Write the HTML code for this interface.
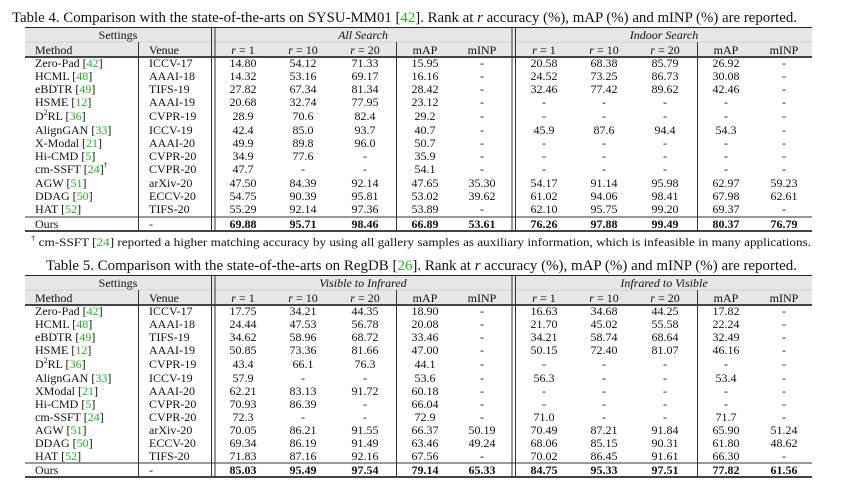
<!DOCTYPE html>
<html><head><meta charset="utf-8"><style>
html,body{margin:0;padding:0;background:#fff;}
svg{display:block;}
text{font-family:"Liberation Serif",serif;font-size:12px;fill:#111;}
.c{text-anchor:middle;}
.g{fill:#22b422;}
.b{font-weight:bold;}
.i{font-style:italic;}
.t{font-size:14.5px;}
</style></head><body>
<svg width="841" height="487" viewBox="0 0 841 487" xmlns="http://www.w3.org/2000/svg">
<!-- TABLE 4 -->
<text x="12" y="22" class="t" textLength="785" lengthAdjust="spacingAndGlyphs">Table 4. Comparison with the state-of-the-arts on SYSU-MM01 [<tspan class="g">42</tspan>]. Rank at <tspan class="i">r</tspan> accuracy (%), mAP (%) and mINP (%) are reported.</text>
<rect x="25" y="27" width="787" height="30" fill="#e6e6e6"/>
<line x1="25" y1="27.5" x2="812" y2="27.5" stroke="#222" stroke-width="1"/>
<line x1="25" y1="42" x2="812" y2="42" stroke="#bbb" stroke-width="0.6"/>
<line x1="25" y1="57" x2="812" y2="57" stroke="#444" stroke-width="2"/>
<line x1="25" y1="217" x2="812" y2="217" stroke="#333" stroke-width="1"/>
<line x1="25" y1="231" x2="812" y2="231" stroke="#444" stroke-width="2"/>
<line x1="138.5" y1="42" x2="138.5" y2="231" stroke="#333"/>
<line x1="211.5" y1="27" x2="211.5" y2="231" stroke="#333"/>
<line x1="215" y1="27" x2="215" y2="231" stroke="#333"/>
<line x1="396.5" y1="42" x2="396.5" y2="231" stroke="#333"/>
<line x1="512" y1="27" x2="512" y2="231" stroke="#333"/>
<line x1="515.5" y1="27" x2="515.5" y2="231" stroke="#333"/>
<line x1="697.5" y1="42" x2="697.5" y2="231" stroke="#333"/>
<text x="118" y="39" class="c">Settings</text>
<text x="363" y="39" class="c i">All Search</text>
<text x="664" y="39" class="c i">Indoor Search</text>
<g transform="translate(0,54)">
<text x="35">Method</text><text x="149">Venue</text>
<text x="243" class="c i">r<tspan font-style="normal"> = 1</tspan></text>
<text x="303" class="c i">r<tspan font-style="normal"> = 10</tspan></text>
<text x="365" class="c i">r<tspan font-style="normal"> = 20</tspan></text>
<text x="425" class="c">mAP</text><text x="482" class="c">mINP</text>
<text x="544" class="c i">r<tspan font-style="normal"> = 1</tspan></text>
<text x="604" class="c i">r<tspan font-style="normal"> = 10</tspan></text>
<text x="665" class="c i">r<tspan font-style="normal"> = 20</tspan></text>
<text x="726" class="c">mAP</text><text x="784" class="c">mINP</text>
</g>
<g transform="translate(0,67)"><text x="35">Zero-Pad [<tspan class="g">42</tspan>]</text><text x="149">ICCV-17</text><text x="243" class="c">14.80</text><text x="303" class="c">54.12</text><text x="365" class="c">71.33</text><text x="425" class="c">15.95</text><text x="482" class="c">-</text><text x="544" class="c">20.58</text><text x="604" class="c">68.38</text><text x="665" class="c">85.79</text><text x="726" class="c">26.92</text><text x="784" class="c">-</text></g>
<g transform="translate(0,80)"><text x="35">HCML [<tspan class="g">48</tspan>]</text><text x="149">AAAI-18</text><text x="243" class="c">14.32</text><text x="303" class="c">53.16</text><text x="365" class="c">69.17</text><text x="425" class="c">16.16</text><text x="482" class="c">-</text><text x="544" class="c">24.52</text><text x="604" class="c">73.25</text><text x="665" class="c">86.73</text><text x="726" class="c">30.08</text><text x="784" class="c">-</text></g>
<g transform="translate(0,93)"><text x="35">eBDTR [<tspan class="g">49</tspan>]</text><text x="149">TIFS-19</text><text x="243" class="c">27.82</text><text x="303" class="c">67.34</text><text x="365" class="c">81.34</text><text x="425" class="c">28.42</text><text x="482" class="c">-</text><text x="544" class="c">32.46</text><text x="604" class="c">77.42</text><text x="665" class="c">89.62</text><text x="726" class="c">42.46</text><text x="784" class="c">-</text></g>
<g transform="translate(0,106)"><text x="35">HSME [<tspan class="g">12</tspan>]</text><text x="149">AAAI-19</text><text x="243" class="c">20.68</text><text x="303" class="c">32.74</text><text x="365" class="c">77.95</text><text x="425" class="c">23.12</text><text x="482" class="c">-</text><text x="544" class="c">-</text><text x="604" class="c">-</text><text x="665" class="c">-</text><text x="726" class="c">-</text><text x="784" class="c">-</text></g>
<g transform="translate(0,120)"><text x="35">D<tspan dy="-5" font-size="8">2</tspan><tspan dy="5">RL [</tspan><tspan class="g">36</tspan>]</text><text x="149">CVPR-19</text><text x="243" class="c">28.9</text><text x="303" class="c">70.6</text><text x="365" class="c">82.4</text><text x="425" class="c">29.2</text><text x="482" class="c">-</text><text x="544" class="c">-</text><text x="604" class="c">-</text><text x="665" class="c">-</text><text x="726" class="c">-</text><text x="784" class="c">-</text></g>
<g transform="translate(0,134)"><text x="35">AlignGAN [<tspan class="g">33</tspan>]</text><text x="149">ICCV-19</text><text x="243" class="c">42.4</text><text x="303" class="c">85.0</text><text x="365" class="c">93.7</text><text x="425" class="c">40.7</text><text x="482" class="c">-</text><text x="544" class="c">45.9</text><text x="604" class="c">87.6</text><text x="665" class="c">94.4</text><text x="726" class="c">54.3</text><text x="784" class="c">-</text></g>
<g transform="translate(0,147)"><text x="35">X-Modal [<tspan class="g">21</tspan>]</text><text x="149">AAAI-20</text><text x="243" class="c">49.9</text><text x="303" class="c">89.8</text><text x="365" class="c">96.0</text><text x="425" class="c">50.7</text><text x="482" class="c">-</text><text x="544" class="c">-</text><text x="604" class="c">-</text><text x="665" class="c">-</text><text x="726" class="c">-</text><text x="784" class="c">-</text></g>
<g transform="translate(0,160)"><text x="35">Hi-CMD [<tspan class="g">5</tspan>]</text><text x="149">CVPR-20</text><text x="243" class="c">34.9</text><text x="303" class="c">77.6</text><text x="365" class="c">-</text><text x="425" class="c">35.9</text><text x="482" class="c">-</text><text x="544" class="c">-</text><text x="604" class="c">-</text><text x="665" class="c">-</text><text x="726" class="c">-</text><text x="784" class="c">-</text></g>
<g transform="translate(0,173)"><text x="35">cm-SSFT [<tspan class="g">24</tspan>]<tspan dy="-5" font-size="8">†</tspan></text><text x="149">CVPR-20</text><text x="243" class="c">47.7</text><text x="303" class="c">-</text><text x="365" class="c">-</text><text x="425" class="c">54.1</text><text x="482" class="c">-</text><text x="544" class="c">-</text><text x="604" class="c">-</text><text x="665" class="c">-</text><text x="726" class="c">-</text><text x="784" class="c">-</text></g>
<g transform="translate(0,187)"><text x="35">AGW [<tspan class="g">51</tspan>]</text><text x="149">arXiv-20</text><text x="243" class="c">47.50</text><text x="303" class="c">84.39</text><text x="365" class="c">92.14</text><text x="425" class="c">47.65</text><text x="482" class="c">35.30</text><text x="544" class="c">54.17</text><text x="604" class="c">91.14</text><text x="665" class="c">95.98</text><text x="726" class="c">62.97</text><text x="784" class="c">59.23</text></g>
<g transform="translate(0,200)"><text x="35">DDAG [<tspan class="g">50</tspan>]</text><text x="149">ECCV-20</text><text x="243" class="c">54.75</text><text x="303" class="c">90.39</text><text x="365" class="c">95.81</text><text x="425" class="c">53.02</text><text x="482" class="c">39.62</text><text x="544" class="c">61.02</text><text x="604" class="c">94.06</text><text x="665" class="c">98.41</text><text x="726" class="c">67.98</text><text x="784" class="c">62.61</text></g>
<g transform="translate(0,213)"><text x="35">HAT [<tspan class="g">52</tspan>]</text><text x="149">TIFS-20</text><text x="243" class="c">55.29</text><text x="303" class="c">92.14</text><text x="365" class="c">97.36</text><text x="425" class="c">53.89</text><text x="482" class="c">-</text><text x="544" class="c">62.10</text><text x="604" class="c">95.75</text><text x="665" class="c">99.20</text><text x="726" class="c">69.37</text><text x="784" class="c">-</text></g>
<g transform="translate(0,228)"><text x="35">Ours</text><text x="149">-</text><text x="243" class="c b">69.88</text><text x="303" class="c b">95.71</text><text x="365" class="c b">98.46</text><text x="425" class="c b">66.89</text><text x="482" class="c b">53.61</text><text x="544" class="c b">76.26</text><text x="604" class="c b">97.88</text><text x="665" class="c b">99.49</text><text x="726" class="c b">80.37</text><text x="784" class="c b">76.79</text></g>
<text x="31" y="246" font-size="13" textLength="780" lengthAdjust="spacingAndGlyphs"><tspan dy="-5" font-size="8">†</tspan><tspan dy="5"> cm-SSFT [</tspan><tspan class="g">24</tspan>] reported a higher matching accuracy by using all gallery samples as auxiliary information, which is infeasible in many applications.</text>

<!-- TABLE 5 -->
<text x="46" y="270" class="t" textLength="751" lengthAdjust="spacingAndGlyphs">Table 5. Comparison with the state-of-the-arts on RegDB [<tspan class="g">26</tspan>]. Rank at <tspan class="i">r</tspan> accuracy (%), mAP (%) and mINP (%) are reported.</text>
<rect x="25" y="275" width="787" height="30" fill="#e6e6e6"/>
<line x1="25" y1="275.5" x2="812" y2="275.5" stroke="#222" stroke-width="1"/>
<line x1="25" y1="290" x2="812" y2="290" stroke="#bbb" stroke-width="0.6"/>
<line x1="25" y1="305" x2="812" y2="305" stroke="#444" stroke-width="2"/>
<line x1="25" y1="463" x2="812" y2="463" stroke="#333" stroke-width="1"/>
<line x1="25" y1="477" x2="812" y2="477" stroke="#444" stroke-width="2"/>
<line x1="138.5" y1="290" x2="138.5" y2="477" stroke="#333"/>
<line x1="211.5" y1="275" x2="211.5" y2="477" stroke="#333"/>
<line x1="215" y1="275" x2="215" y2="477" stroke="#333"/>
<line x1="396.5" y1="290" x2="396.5" y2="477" stroke="#333"/>
<line x1="512" y1="275" x2="512" y2="477" stroke="#333"/>
<line x1="515.5" y1="275" x2="515.5" y2="477" stroke="#333"/>
<line x1="697.5" y1="290" x2="697.5" y2="477" stroke="#333"/>
<text x="118" y="287" class="c">Settings</text>
<text x="363" y="287" class="c i">Visible to Infrared</text>
<text x="664" y="287" class="c i">Infrared to Visible</text>
<g transform="translate(0,302)">
<text x="35">Method</text><text x="149">Venue</text>
<text x="243" class="c i">r<tspan font-style="normal"> = 1</tspan></text>
<text x="303" class="c i">r<tspan font-style="normal"> = 10</tspan></text>
<text x="365" class="c i">r<tspan font-style="normal"> = 20</tspan></text>
<text x="425" class="c">mAP</text><text x="482" class="c">mINP</text>
<text x="544" class="c i">r<tspan font-style="normal"> = 1</tspan></text>
<text x="604" class="c i">r<tspan font-style="normal"> = 10</tspan></text>
<text x="665" class="c i">r<tspan font-style="normal"> = 20</tspan></text>
<text x="726" class="c">mAP</text><text x="784" class="c">mINP</text>
</g>
<g transform="translate(0,315)"><text x="35">Zero-Pad [<tspan class="g">42</tspan>]</text><text x="149">ICCV-17</text><text x="243" class="c">17.75</text><text x="303" class="c">34.21</text><text x="365" class="c">44.35</text><text x="425" class="c">18.90</text><text x="482" class="c">-</text><text x="544" class="c">16.63</text><text x="604" class="c">34.68</text><text x="665" class="c">44.25</text><text x="726" class="c">17.82</text><text x="784" class="c">-</text></g>
<g transform="translate(0,328)"><text x="35">HCML [<tspan class="g">48</tspan>]</text><text x="149">AAAI-18</text><text x="243" class="c">24.44</text><text x="303" class="c">47.53</text><text x="365" class="c">56.78</text><text x="425" class="c">20.08</text><text x="482" class="c">-</text><text x="544" class="c">21.70</text><text x="604" class="c">45.02</text><text x="665" class="c">55.58</text><text x="726" class="c">22.24</text><text x="784" class="c">-</text></g>
<g transform="translate(0,341)"><text x="35">eBDTR [<tspan class="g">49</tspan>]</text><text x="149">TIFS-19</text><text x="243" class="c">34.62</text><text x="303" class="c">58.96</text><text x="365" class="c">68.72</text><text x="425" class="c">33.46</text><text x="482" class="c">-</text><text x="544" class="c">34.21</text><text x="604" class="c">58.74</text><text x="665" class="c">68.64</text><text x="726" class="c">32.49</text><text x="784" class="c">-</text></g>
<g transform="translate(0,354)"><text x="35">HSME [<tspan class="g">12</tspan>]</text><text x="149">AAAI-19</text><text x="243" class="c">50.85</text><text x="303" class="c">73.36</text><text x="365" class="c">81.66</text><text x="425" class="c">47.00</text><text x="482" class="c">-</text><text x="544" class="c">50.15</text><text x="604" class="c">72.40</text><text x="665" class="c">81.07</text><text x="726" class="c">46.16</text><text x="784" class="c">-</text></g>
<g transform="translate(0,368)"><text x="35">D<tspan dy="-5" font-size="8">2</tspan><tspan dy="5">RL [</tspan><tspan class="g">36</tspan>]</text><text x="149">CVPR-19</text><text x="243" class="c">43.4</text><text x="303" class="c">66.1</text><text x="365" class="c">76.3</text><text x="425" class="c">44.1</text><text x="482" class="c">-</text><text x="544" class="c">-</text><text x="604" class="c">-</text><text x="665" class="c">-</text><text x="726" class="c">-</text><text x="784" class="c">-</text></g>
<g transform="translate(0,382)"><text x="35">AlignGAN [<tspan class="g">33</tspan>]</text><text x="149">ICCV-19</text><text x="243" class="c">57.9</text><text x="303" class="c">-</text><text x="365" class="c">-</text><text x="425" class="c">53.6</text><text x="482" class="c">-</text><text x="544" class="c">56.3</text><text x="604" class="c">-</text><text x="665" class="c">-</text><text x="726" class="c">53.4</text><text x="784" class="c">-</text></g>
<g transform="translate(0,395)"><text x="35">XModal [<tspan class="g">21</tspan>]</text><text x="149">AAAI-20</text><text x="243" class="c">62.21</text><text x="303" class="c">83.13</text><text x="365" class="c">91.72</text><text x="425" class="c">60.18</text><text x="482" class="c">-</text><text x="544" class="c">-</text><text x="604" class="c">-</text><text x="665" class="c">-</text><text x="726" class="c">-</text><text x="784" class="c">-</text></g>
<g transform="translate(0,408)"><text x="35">Hi-CMD [<tspan class="g">5</tspan>]</text><text x="149">CVPR-20</text><text x="243" class="c">70.93</text><text x="303" class="c">86.39</text><text x="365" class="c">-</text><text x="425" class="c">66.04</text><text x="482" class="c">-</text><text x="544" class="c">-</text><text x="604" class="c">-</text><text x="665" class="c">-</text><text x="726" class="c">-</text><text x="784" class="c">-</text></g>
<g transform="translate(0,421)"><text x="35">cm-SSFT [<tspan class="g">24</tspan>]</text><text x="149">CVPR-20</text><text x="243" class="c">72.3</text><text x="303" class="c">-</text><text x="365" class="c">-</text><text x="425" class="c">72.9</text><text x="482" class="c">-</text><text x="544" class="c">71.0</text><text x="604" class="c">-</text><text x="665" class="c">-</text><text x="726" class="c">71.7</text><text x="784" class="c">-</text></g>
<g transform="translate(0,434)"><text x="35">AGW [<tspan class="g">51</tspan>]</text><text x="149">arXiv-20</text><text x="243" class="c">70.05</text><text x="303" class="c">86.21</text><text x="365" class="c">91.55</text><text x="425" class="c">66.37</text><text x="482" class="c">50.19</text><text x="544" class="c">70.49</text><text x="604" class="c">87.21</text><text x="665" class="c">91.84</text><text x="726" class="c">65.90</text><text x="784" class="c">51.24</text></g>
<g transform="translate(0,447)"><text x="35">DDAG [<tspan class="g">50</tspan>]</text><text x="149">ECCV-20</text><text x="243" class="c">69.34</text><text x="303" class="c">86.19</text><text x="365" class="c">91.49</text><text x="425" class="c">63.46</text><text x="482" class="c">49.24</text><text x="544" class="c">68.06</text><text x="604" class="c">85.15</text><text x="665" class="c">90.31</text><text x="726" class="c">61.80</text><text x="784" class="c">48.62</text></g>
<g transform="translate(0,460)"><text x="35">HAT [<tspan class="g">52</tspan>]</text><text x="149">TIFS-20</text><text x="243" class="c">71.83</text><text x="303" class="c">87.16</text><text x="365" class="c">92.16</text><text x="425" class="c">67.56</text><text x="482" class="c">-</text><text x="544" class="c">70.02</text><text x="604" class="c">86.45</text><text x="665" class="c">91.61</text><text x="726" class="c">66.30</text><text x="784" class="c">-</text></g>
<g transform="translate(0,474)"><text x="35">Ours</text><text x="149">-</text><text x="243" class="c b">85.03</text><text x="303" class="c b">95.49</text><text x="365" class="c b">97.54</text><text x="425" class="c b">79.14</text><text x="482" class="c b">65.33</text><text x="544" class="c b">84.75</text><text x="604" class="c b">95.33</text><text x="665" class="c b">97.51</text><text x="726" class="c b">77.82</text><text x="784" class="c b">61.56</text></g>
</svg>
</body></html>
